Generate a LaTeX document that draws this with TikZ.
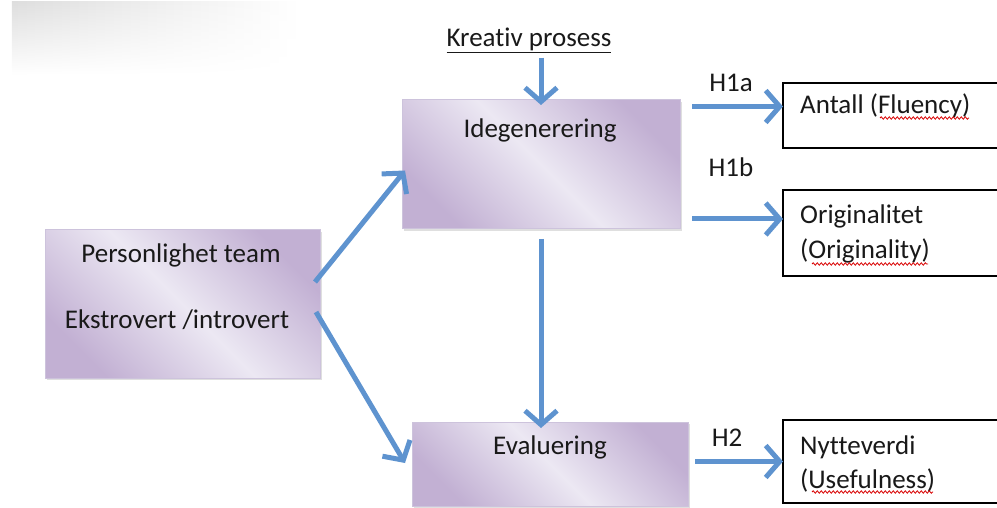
\documentclass[tikz,border=0pt]{standalone}
\usepackage{fontspec}
\setmainfont[Ligatures=NoCommon]{Carlito}
\usetikzlibrary{arrows.meta,calc,shadows,fadings,decorations.pathmorphing}
\definecolor{arrowblue}{RGB}{94,147,207}
\definecolor{boxpurple}{RGB}{194,176,211}
\definecolor{boxlight}{RGB}{236,232,243}
\definecolor{boxedge}{RGB}{205,195,220}
\tikzset{
  pbox/.style={draw=boxedge, line width=1pt, shading=axis, top color=boxpurple,
    bottom color=boxpurple, middle color=boxlight, shading angle=-45,
    drop shadow={opacity=0.25, shadow xshift=2pt, shadow yshift=-2pt},
    inner sep=0pt, outer sep=0pt},
  wbox/.style={draw=black, line width=1.4pt, fill=white, inner sep=0pt, outer sep=0pt},
  txt/.style={font=\fontsize{27}{31}\selectfont, inner sep=0pt, text=black!90},
  arr/.style={draw=arrowblue, line width=5pt,
    -{Straight Barb[length=14pt, width=32pt, line width=5pt]}},
  squig/.style={draw=red!85!black, line width=0.8pt,
    decorate, decoration={snake, amplitude=1.2pt, segment length=4pt}}
}
\begin{document}
\begin{tikzpicture}[x=1pt,y=1pt]
\useasboundingbox (0,0) rectangle (997,507);
% faint blur top-left
\shade[left color=black!13, right color=white, path fading=south]
  (12,432) rectangle (300,505);

% boxes
\node[pbox, minimum width=278pt, minimum height=129pt, anchor=south west] (ide) at (402,278) {};
\node[pbox, minimum width=275pt, minimum height=148pt, anchor=south west] (pers) at (45,129) {};
\node[pbox, minimum width=276pt, minimum height=84pt, anchor=south west] (eval) at (412,1) {};
\node[wbox, minimum width=230pt, minimum height=65pt, anchor=south west] (ant) at (783,359) {};
\node[wbox, minimum width=230pt, minimum height=86pt, anchor=south west] (orig) at (783,231) {};
\node[wbox, minimum width=230pt, minimum height=83pt, anchor=south west] (nytt) at (783,4) {};

% texts
\node[txt] (kre) at (529,467) {\underline{Kreativ prosess}};
\node[txt] (idet) at (540,377) {Idegenerering};
\node[txt] (pers1) at (181,252) {Personlighet team};
\node[txt] (pers2) at (177,187) {Ekstrovert /introvert};
\node[txt] (evalt) at (550,60) {Evaluering};
\node[txt, anchor=west] (antt) at (800,401) {Antall (Fluency)};
\node[txt, anchor=west] (orig1) at (800,291) {Originalitet};
\node[txt, anchor=west] (orig2) at (800,256) {(Originality)};
\node[txt, anchor=west] (nytt1) at (800,60) {Nytteverdi};
\node[txt, anchor=west] (nytt2) at (800,27) {(Usefulness)};
\node[txt] (h1a) at (731,424) {H1a};
\node[txt] (h1b) at (731,340) {H1b};
\node[txt] (h2) at (727,69) {H2};

% spell-check squiggles
\draw[squig] (880,389) -- (969,389);
\draw[squig] (812,243) -- (928,243);
\draw[squig] (812,15) -- (933,15);

% connectors
\draw[arr] ($(kre.south -| ide.north)+(0,-5)$) -- ($(ide.north)+(0,-5)$);
\draw[arr] ($(pers.east)+(-5,22)$) -- ($(ide.west)+(3,-6)$);
\draw[arr] ($(pers.east)+(-4,-8)$) -- ($(eval.west)+(-7,1)$);
\draw[arr] ($(ide.south)+(0,-10)$) -- ($(ide.south |- eval.north)+(0,-6)$);
\draw[arr] ($(ant.west)+(-91,9)$) -- ($(ant.west)+(0,9)$);
\draw[arr] ($(orig.west)+(-91,14)$) -- ($(orig.west)+(0,14)$);
\draw[arr] ($(nytt.west)+(-88,0)$) -- ($(nytt.west)+(0,0)$);
\end{tikzpicture}
\end{document}
